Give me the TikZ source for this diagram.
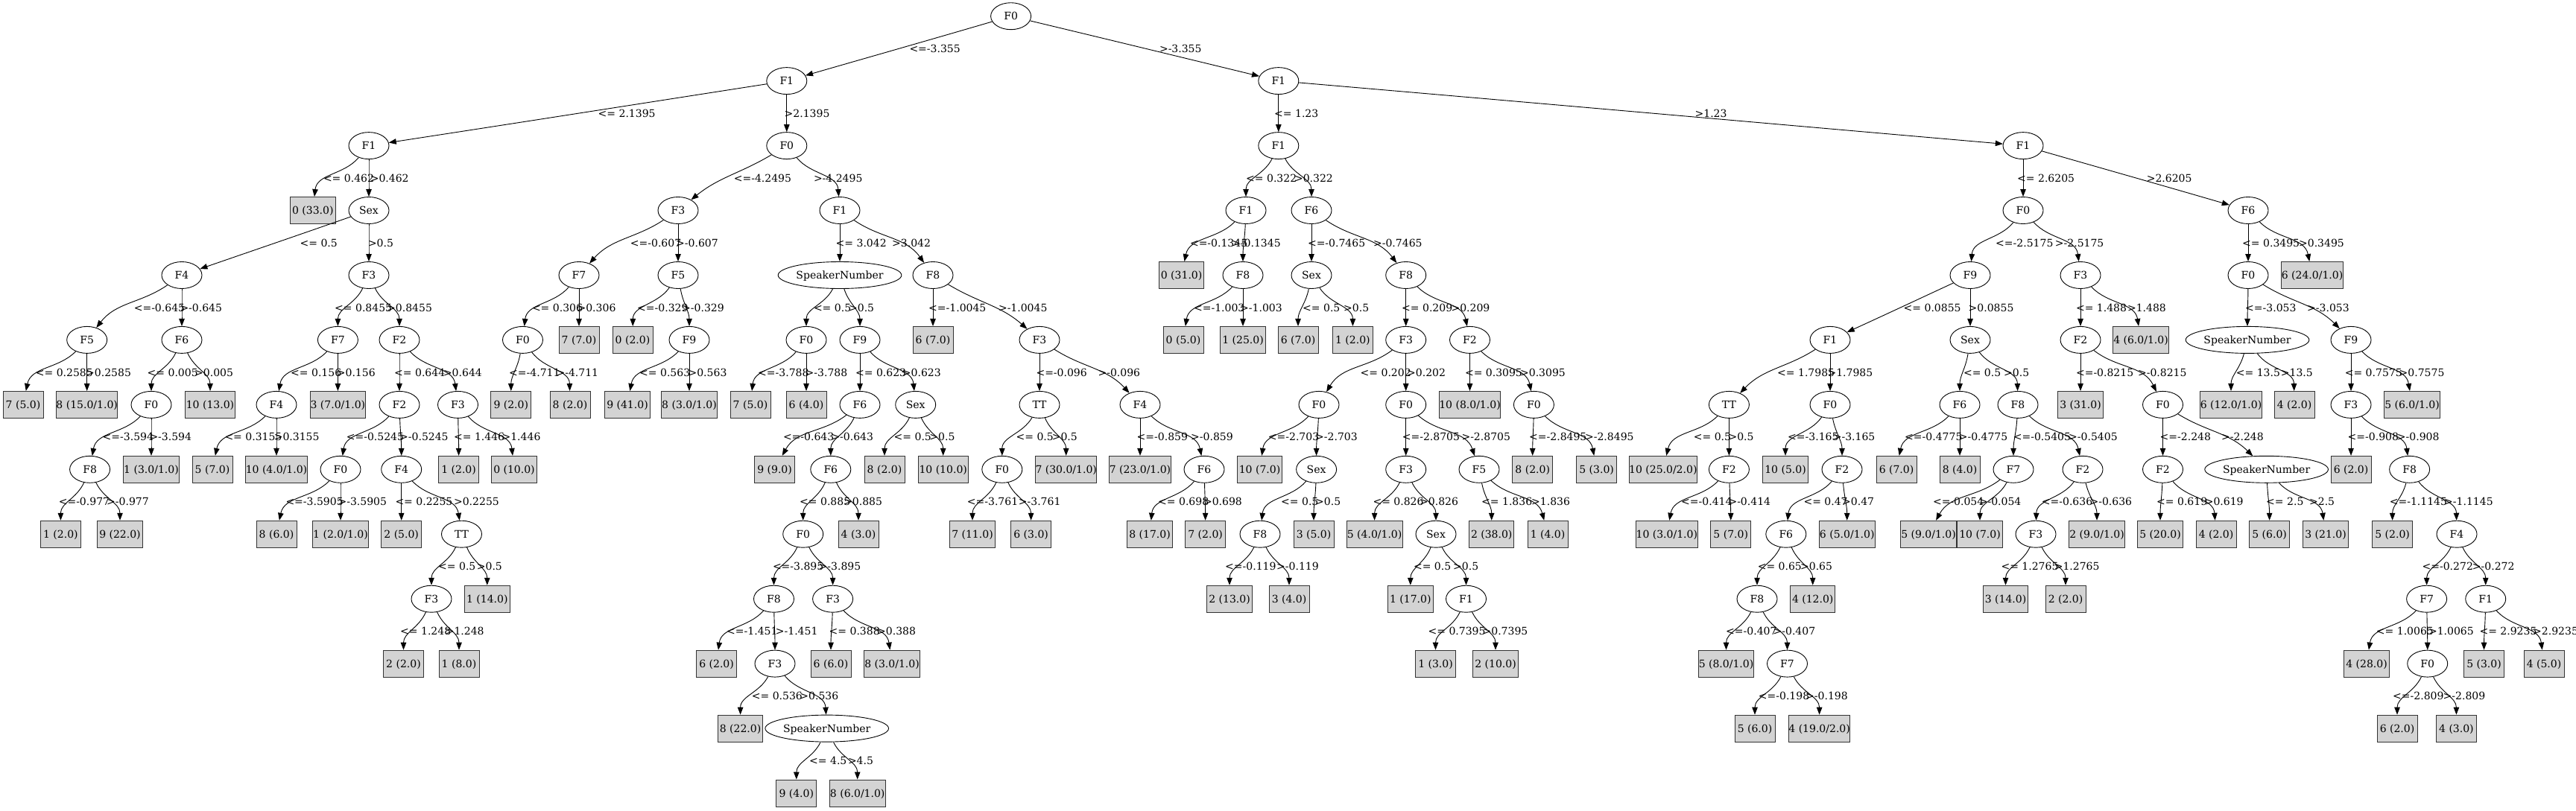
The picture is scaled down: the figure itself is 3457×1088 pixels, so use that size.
\documentclass[tikz,border=0pt]{standalone}
\usepackage{fontspec}
\setmainfont{DejaVu Serif}
\usetikzlibrary{arrows.meta,shapes.geometric}
\definecolor{leafgray}{RGB}{211,211,211}
\newdimen\edAx \newdimen\edAy \newdimen\edBx \newdimen\edBy
\newcommand\tedgelab[5]{%
  \pgfextractx{\edAx}{\pgfpointanchor{#1}{center}}%
  \pgfextracty{\edAy}{\pgfpointanchor{#1}{center}}%
  \pgfextractx{\edBx}{\pgfpointanchor{#2}{center}}%
  \pgfextracty{\edBy}{\pgfpointanchor{#2}{center}}%
  \pgfmathsetmacro\edOut{atan2(\edBy-\edAy,\edBx-\edAx)}%
  \pgfmathsetmacro\edStr{atan2(\edAy-\edBy,\edAx-\edBx)}%
  \pgfmathsetmacro\edW{min(1,max(0,(abs(\edBx-\edAx)-60)/100))}%
  \pgfmathsetmacro\edIn{90+(\edStr-90)*\edW}%
  \draw[tedge] (#1) to[out=\edOut,in=\edIn] (#2);
  \node[elab] (L#2) at (#3,#4) {#5};}
\begin{document}
\begin{tikzpicture}[x=1pt,y=-1pt,font=\fontsize{14pt}{16pt}\selectfont,
  inode/.style={ellipse,draw,line width=0.9pt,minimum width=54pt,minimum height=36pt,inner sep=0pt,text height=10.2pt,text depth=0pt},
  spk/.style={inode,minimum width=136pt},
  lf/.style={rectangle,draw=black!80,fill=leafgray,line width=0.9pt,minimum width=54pt,minimum height=36pt,inner xsep=0pt,inner ysep=0pt,text height=10.2pt,text depth=0pt},
  lfa/.style={lf,minimum width=60.3pt},
  lfb/.style={lf,minimum width=67.3pt},
  lfc/.style={lf,minimum width=74.7pt},
  lfd/.style={lf,minimum width=81.7pt},
  lfe/.style={lf,minimum width=88.7pt},
  elab/.style={anchor=west,inner sep=0pt,text height=10.2pt,text depth=0pt},
  tedge/.style={draw=black,line width=0.9pt,-{Triangle[length=10pt,width=7.5pt]}}]
\fill[white] (0,0) rectangle (3457,1088);
\useasboundingbox (0,0) rectangle (3457,1088);
% level 0-2
\node[inode] (n1) at (1356.6,21.7) {F0};
\node[inode] (n2) at (1055.8,108.6) {F1};
\node[inode] (n3) at (1715.8,108.6) {F1};
\node[inode] (n4) at (495,195.6) {F1};
\node[inode] (n5) at (1055.8,195.6) {F0};
\node[inode] (n6) at (1715.8,195.6) {F1};
\node[inode] (n7) at (2715,195.6) {F1};
% level 3
\node[lfa] (n8) at (419.8,282.5) {0 (33.0)};
\node[inode] (n9) at (495,282.5) {Sex};
\node[inode] (n10) at (910,282.5) {F3};
\node[inode] (n11) at (1127,282.5) {F1};
\node[inode] (n12) at (1672,282.5) {F1};
\node[inode] (n13) at (1760,282.5) {F6};
\node[inode] (n14) at (2715,282.5) {F0};
\node[inode] (n15) at (3017,282.5) {F6};
% level 4
\node[inode] (n16) at (244,369.5) {F4};
\node[inode] (n17) at (495,369.5) {F3};
\node[inode] (n18) at (777,369.5) {F7};
\node[inode] (n19) at (910,369.5) {F5};
\node[spk] (n20) at (1127,369.5) {SpeakerNumber};
\node[inode] (n21) at (1252,369.5) {F8};
\node[lfa] (n22) at (1585.6,369.5) {0 (31.0)};
\node[inode] (n23) at (1668,369.5) {F8};
\node[inode] (n24) at (1760,369.5) {Sex};
\node[inode] (n25) at (1886.7,369.5) {F8};
\node[inode] (n26) at (2644,369.5) {F9};
\node[inode] (n27) at (2792,369.5) {F3};
\node[inode] (n28) at (3017,369.5) {F0};
\node[lfd] (n29) at (3103,369.5) {6 (24.0/1.0)};
% level 5
\node[inode] (n30) at (116.7,456.4) {F5};
\node[inode] (n31) at (244,456.4) {F6};
\node[inode] (n32) at (453.4,456.4) {F7};
\node[inode] (n33) at (536,456.4) {F2};
\node[inode] (n34) at (701.5,456.4) {F0};
\node[lf] (n35) at (777,456.4) {7 (7.0)};
\node[lf] (n36) at (849,456.4) {0 (2.0)};
\node[inode] (n37) at (925,456.4) {F9};
\node[inode] (n38) at (1082,456.4) {F0};
\node[inode] (n39) at (1154,456.4) {F9};
\node[lf] (n40) at (1252,456.4) {6 (7.0)};
\node[inode] (n41) at (1395,456.4) {F3};
\node[lf] (n42) at (1588,456.4) {0 (5.0)};
\node[lfa] (n43) at (1668,456.4) {1 (25.0)};
\node[lf] (n44) at (1742,456.4) {6 (7.0)};
\node[lf] (n45) at (1815.4,456.4) {1 (2.0)};
\node[inode] (n46) at (1886.7,456.4) {F3};
\node[inode] (n47) at (1972.5,456.4) {F2};
\node[inode] (n48) at (2456,456.4) {F1};
\node[inode] (n49) at (2644,456.4) {Sex};
\node[inode] (n50) at (2792,456.4) {F2};
\node[lfc] (n51) at (2873,456.4) {4 (6.0/1.0)};
\node[spk] (n52) at (3016,456.4) {SpeakerNumber};
\node[inode] (n53) at (3155,456.4) {F9};
% level 6
\node[lf] (n54) at (31,543.4) {7 (5.0)};
\node[lfd] (n55) at (116.7,543.4) {8 (15.0/1.0)};
\node[inode] (n56) at (203,543.4) {F0};
\node[lfb] (n57) at (282,543.4) {10 (13.0)};
\node[inode] (n58) at (371,543.4) {F4};
\node[lfc] (n59) at (453.4,543.4) {3 (7.0/1.0)};
\node[inode] (n60) at (536,543.4) {F2};
\node[inode] (n61) at (614.5,543.4) {F3};
\node[lf] (n62) at (685.8,543.4) {9 (2.0)};
\node[lf] (n63) at (765,543.4) {8 (2.0)};
\node[lfa] (n64) at (842,543.4) {9 (41.0)};
\node[lfc] (n65) at (925,543.4) {8 (3.0/1.0)};
\node[lf] (n66) at (1007,543.4) {7 (5.0)};
\node[lf] (n67) at (1082,543.4) {6 (4.0)};
\node[inode] (n68) at (1154,543.4) {F6};
\node[inode] (n69) at (1228.7,543.4) {Sex};
\node[inode] (n70) at (1395,543.4) {TT};
\node[inode] (n71) at (1530,543.4) {F4};
\node[inode] (n72) at (1770,543.4) {F0};
\node[inode] (n73) at (1886.7,543.4) {F0};
\node[lfd] (n74) at (1972.5,543.4) {10 (8.0/1.0)};
\node[inode] (n75) at (2058.4,543.4) {F0};
\node[inode] (n76) at (2320.4,543.4) {TT};
\node[inode] (n77) at (2456,543.4) {F0};
\node[inode] (n78) at (2630,543.4) {F6};
\node[inode] (n79) at (2708,543.4) {F8};
\node[lfa] (n80) at (2792,543.4) {3 (31.0)};
\node[inode] (n81) at (2902.5,543.4) {F0};
\node[lfd] (n82) at (2994,543.4) {6 (12.0/1.0)};
\node[lf] (n83) at (3079,543.4) {4 (2.0)};
\node[inode] (n84) at (3155,543.4) {F3};
\node[lfc] (n85) at (3237,543.4) {5 (6.0/1.0)};
% level 7
\node[inode] (n86) at (120.6,630.3) {F8};
\node[lfc] (n87) at (203,630.3) {1 (3.0/1.0)};
\node[lf] (n88) at (285,630.3) {5 (7.0)};
\node[lfd] (n89) at (371,630.3) {10 (4.0/1.0)};
\node[inode] (n90) at (457,630.3) {F0};
\node[inode] (n91) at (538.7,630.3) {F4};
\node[lf] (n92) at (615.6,630.3) {1 (2.0)};
\node[lfa] (n93) at (690,630.3) {0 (10.0)};
\node[lf] (n94) at (1039.6,630.3) {9 (9.0)};
\node[inode] (n95) at (1114.8,630.3) {F6};
\node[lf] (n96) at (1187,630.3) {8 (2.0)};
\node[lfb] (n97) at (1265.7,630.3) {10 (10.0)};
\node[inode] (n98) at (1344.8,630.3) {F0};
\node[lfd] (n99) at (1430.7,630.3) {7 (30.0/1.0)};
\node[lfd] (n100) at (1530,630.3) {7 (23.0/1.0)};
\node[inode] (n101) at (1616,630.3) {F6};
\node[lfa] (n102) at (1690.5,630.3) {10 (7.0)};
\node[inode] (n103) at (1766.6,630.3) {Sex};
\node[inode] (n104) at (1886.7,630.3) {F3};
\node[inode] (n105) at (1985,630.3) {F5};
\node[lf] (n106) at (2056.7,630.3) {8 (2.0)};
\node[lf] (n107) at (2142.6,630.3) {5 (3.0)};
\node[lfe] (n108) at (2231.8,630.3) {10 (25.0/2.0)};
\node[inode] (n109) at (2320.4,630.3) {F2};
\node[lfa] (n110) at (2396,630.3) {10 (5.0)};
\node[inode] (n111) at (2472,630.3) {F2};
\node[lf] (n112) at (2545,630.3) {6 (7.0)};
\node[lf] (n113) at (2630,630.3) {8 (4.0)};
\node[inode] (n114) at (2702,630.3) {F7};
\node[inode] (n115) at (2795,630.3) {F2};
\node[inode] (n116) at (2902.5,630.3) {F2};
\node[spk] (n117) at (3041.6,630.3) {SpeakerNumber};
\node[lf] (n118) at (3155,630.3) {6 (2.0)};
\node[inode] (n119) at (3233.6,630.3) {F8};
% level 8
\node[lf] (n120) at (81.4,717.2) {1 (2.0)};
\node[lfa] (n121) at (161,717.2) {9 (22.0)};
\node[lf] (n122) at (371,717.2) {8 (6.0)};
\node[lfc] (n123) at (457,717.2) {1 (2.0/1.0)};
\node[lf] (n124) at (538.7,717.2) {2 (5.0)};
\node[inode] (n125) at (619.5,717.2) {TT};
\node[inode] (n126) at (1077.7,717.2) {F0};
\node[lf] (n127) at (1152,717.2) {4 (3.0)};
\node[lfa] (n128) at (1305,717.2) {7 (11.0)};
\node[lf] (n129) at (1383.6,717.2) {6 (3.0)};
\node[lfa] (n130) at (1543,717.2) {8 (17.0)};
\node[lf] (n131) at (1617.6,717.2) {7 (2.0)};
\node[inode] (n132) at (1691,717.2) {F8};
\node[lf] (n133) at (1763,717.2) {3 (5.0)};
\node[lfc] (n134) at (1844.6,717.2) {5 (4.0/1.0)};
\node[inode] (n135) at (1927,717.2) {Sex};
\node[lfa] (n136) at (2001.7,717.2) {2 (38.0)};
\node[lf] (n137) at (2077,717.2) {1 (4.0)};
\node[lfd] (n138) at (2236.8,717.2) {10 (3.0/1.0)};
\node[lf] (n139) at (2322.7,717.2) {5 (7.0)};
\node[inode] (n140) at (2396.8,717.2) {F6};
\node[lfc] (n141) at (2478.7,717.2) {6 (5.0/1.0)};
\node[lfc] (n142) at (2588,717.2) {5 (9.0/1.0)};
\node[lfa] (n143) at (2657,717.2) {10 (7.0)};
\node[inode] (n144) at (2732,717.2) {F3};
\node[lfc] (n145) at (2814,717.2) {2 (9.0/1.0)};
\node[lfa] (n146) at (2899,717.2) {5 (20.0)};
\node[lf] (n147) at (2974,717.2) {4 (2.0)};
\node[lf] (n148) at (3045.6,717.2) {5 (6.0)};
\node[lfa] (n149) at (3121,717.2) {3 (21.0)};
\node[lf] (n150) at (3210.6,717.2) {5 (2.0)};
\node[inode] (n151) at (3297,717.2) {F4};
% level 9
\node[inode] (n152) at (579,804.2) {F3};
\node[lfa] (n153) at (653.8,804.2) {1 (14.0)};
\node[inode] (n154) at (1038.5,804.2) {F8};
\node[inode] (n155) at (1117.6,804.2) {F3};
\node[lfa] (n156) at (1650,804.2) {2 (13.0)};
\node[lf] (n157) at (1730,804.2) {3 (4.0)};
\node[lfa] (n158) at (1892.8,804.2) {1 (17.0)};
\node[inode] (n159) at (1967.5,804.2) {F1};
\node[inode] (n160) at (2358,804.2) {F8};
\node[lfa] (n161) at (2432.7,804.2) {4 (12.0)};
\node[lfa] (n162) at (2691.5,804.2) {3 (14.0)};
\node[lf] (n163) at (2772,804.2) {2 (2.0)};
\node[inode] (n164) at (3256.6,804.2) {F7};
\node[inode] (n165) at (3335.7,804.2) {F1};
% level 10
\node[lf] (n166) at (541.5,891.1) {2 (2.0)};
\node[lf] (n167) at (616,891.1) {1 (8.0)};
\node[lf] (n168) at (961.6,891.1) {6 (2.0)};
\node[inode] (n169) at (1040,891.1) {F3};
\node[lf] (n170) at (1115,891.1) {6 (6.0)};
\node[lfc] (n171) at (1197,891.1) {8 (3.0/1.0)};
\node[lf] (n172) at (1926.5,891.1) {1 (3.0)};
\node[lfa] (n173) at (2007,891.1) {2 (10.0)};
\node[lfc] (n174) at (2316.5,891.1) {5 (8.0/1.0)};
\node[inode] (n175) at (2398.5,891.1) {F7};
\node[lfa] (n176) at (3176,891.1) {4 (28.0)};
\node[inode] (n177) at (3257.7,891.1) {F0};
\node[lf] (n178) at (3333.5,891.1) {5 (3.0)};
\node[lf] (n179) at (3414,891.1) {4 (5.0)};
% level 11
\node[lfa] (n180) at (993.6,978.1) {8 (22.0)};
\node[spk] (n181) at (1109.7,978.1) {SpeakerNumber};
\node[lf] (n182) at (2355,978.1) {5 (6.0)};
\node[lfd] (n183) at (2441.6,978.1) {4 (19.0/2.0)};
\node[lf] (n184) at (3217,978.1) {6 (2.0)};
\node[lf] (n185) at (3296.4,978.1) {4 (3.0)};
% level 12
\node[lf] (n186) at (1068.8,1065) {9 (4.0)};
\node[lfc] (n187) at (1150.7,1065) {8 (6.0/1.0)};
% edges
\tedgelab{n1}{n2}{1220.3}{65.2}{<=-3.355}
\tedgelab{n1}{n3}{1555.8}{65.2}{>-3.355}
\tedgelab{n2}{n4}{802.5}{152.1}{<= 2.1395}
\tedgelab{n2}{n5}{1052.5}{152.1}{>2.1395}
\tedgelab{n3}{n6}{1710}{152.1}{<= 1.23}
\tedgelab{n3}{n7}{2274.4}{152.1}{>1.23}
\tedgelab{n4}{n8}{433.8}{239}{<= 0.462}
\tedgelab{n4}{n9}{496.6}{239}{>0.462}
\tedgelab{n5}{n10}{984.6}{239}{<=-4.2495}
\tedgelab{n5}{n11}{1091.8}{239}{>-4.2495}
\tedgelab{n6}{n12}{1672}{239}{<= 0.322}
\tedgelab{n6}{n13}{1736.8}{239}{>0.322}
\tedgelab{n7}{n14}{2707}{239}{<= 2.6205}
\tedgelab{n7}{n15}{2880.6}{239}{>2.6205}
\tedgelab{n9}{n16}{402.4}{326}{<= 0.5}
\tedgelab{n9}{n17}{493.8}{326}{>0.5}
\tedgelab{n10}{n18}{845.7}{326}{<=-0.607}
\tedgelab{n10}{n19}{907}{326}{>-0.607}
\tedgelab{n11}{n20}{1121.5}{326}{<= 3.042}
\tedgelab{n11}{n21}{1197}{326}{>3.042}
\tedgelab{n12}{n22}{1596.8}{326}{<=-0.1345}
\tedgelab{n12}{n23}{1653}{326}{>-0.1345}
\tedgelab{n13}{n24}{1754.8}{326}{<=-0.7465}
\tedgelab{n13}{n25}{1842.9}{326}{>-0.7465}
\tedgelab{n14}{n26}{2678}{326}{<=-2.5175}
\tedgelab{n14}{n27}{2757.7}{326}{>-2.5175}
\tedgelab{n15}{n28}{3009}{326}{<= 0.3495}
\tedgelab{n15}{n29}{3084.9}{326}{>0.3495}
\tedgelab{n16}{n30}{179.6}{412.9}{<=-0.645}
\tedgelab{n16}{n31}{241.3}{412.9}{>-0.645}
\tedgelab{n17}{n32}{449}{412.9}{<= 0.8455}
\tedgelab{n17}{n33}{519}{412.9}{>0.8455}
\tedgelab{n18}{n34}{713.8}{412.9}{<= 0.306}
\tedgelab{n18}{n35}{774.4}{412.9}{>0.306}
\tedgelab{n19}{n36}{855}{412.9}{<=-0.329}
\tedgelab{n19}{n37}{915}{412.9}{>-0.329}
\tedgelab{n20}{n38}{1091.8}{412.9}{<= 0.5}
\tedgelab{n20}{n39}{1138.9}{412.9}{>0.5}
\tedgelab{n21}{n40}{1246}{412.9}{<=-1.0045}
\tedgelab{n21}{n41}{1339.8}{412.9}{>-1.0045}
\tedgelab{n23}{n42}{1601.9}{412.9}{<=-1.003}
\tedgelab{n23}{n43}{1664}{412.9}{>-1.003}
\tedgelab{n24}{n44}{1748}{412.9}{<= 0.5}
\tedgelab{n24}{n45}{1803}{412.9}{>0.5}
\tedgelab{n25}{n46}{1881}{412.9}{<= 0.209}
\tedgelab{n25}{n47}{1947.3}{412.9}{>0.209}
\tedgelab{n26}{n48}{2554.5}{412.9}{<= 0.0855}
\tedgelab{n26}{n49}{2641.5}{412.9}{>0.0855}
\tedgelab{n27}{n50}{2785.8}{412.9}{<= 1.488}
\tedgelab{n27}{n51}{2854.8}{412.9}{>1.488}
\tedgelab{n28}{n52}{3013}{412.9}{<=-3.053}
\tedgelab{n28}{n53}{3096}{412.9}{>-3.053}
\tedgelab{n30}{n54}{47.7}{499.9}{<= 0.2585}
\tedgelab{n30}{n55}{115}{499.9}{>0.2585}
\tedgelab{n31}{n56}{197.5}{499.9}{<= 0.005}
\tedgelab{n31}{n57}{261}{499.9}{>0.005}
\tedgelab{n32}{n58}{390}{499.9}{<= 0.156}
\tedgelab{n32}{n59}{451.7}{499.9}{>0.156}
\tedgelab{n33}{n60}{529}{499.9}{<= 0.644}
\tedgelab{n33}{n61}{594.8}{499.9}{>0.644}
\tedgelab{n34}{n62}{683}{499.9}{<=-4.711}
\tedgelab{n34}{n63}{746.4}{499.9}{>-4.711}
\tedgelab{n37}{n64}{858}{499.9}{<= 0.563}
\tedgelab{n37}{n65}{923.4}{499.9}{>0.563}
\tedgelab{n38}{n66}{1017}{499.9}{<=-3.788}
\tedgelab{n38}{n67}{1080.5}{499.9}{>-3.788}
\tedgelab{n39}{n68}{1147.9}{499.9}{<= 0.623}
\tedgelab{n39}{n69}{1210.7}{499.9}{>0.623}
\tedgelab{n41}{n70}{1390.3}{499.9}{<=-0.096}
\tedgelab{n41}{n71}{1473.4}{499.9}{>-0.096}
\tedgelab{n46}{n72}{1825.5}{499.9}{<= 0.202}
\tedgelab{n46}{n73}{1888}{499.9}{>0.202}
\tedgelab{n47}{n74}{1965.8}{499.9}{<= 0.3095}
\tedgelab{n47}{n75}{2039.9}{499.9}{>0.3095}
\tedgelab{n48}{n76}{2385}{499.9}{<= 1.7985}
\tedgelab{n48}{n77}{2452.3}{499.9}{>1.7985}
\tedgelab{n49}{n78}{2634.8}{499.9}{<= 0.5}
\tedgelab{n49}{n79}{2689}{499.9}{>0.5}
\tedgelab{n50}{n80}{2785.8}{499.9}{<=-0.8215}
\tedgelab{n50}{n81}{2868.8}{499.9}{>-0.8215}
\tedgelab{n52}{n82}{3000.7}{499.9}{<= 13.5}
\tedgelab{n52}{n83}{3060.7}{499.9}{>13.5}
\tedgelab{n53}{n84}{3146.6}{499.9}{<= 0.7575}
\tedgelab{n53}{n85}{3219.5}{499.9}{>0.7575}
\tedgelab{n56}{n86}{137.5}{586.8}{<=-3.594}
\tedgelab{n56}{n87}{200.3}{586.8}{>-3.594}
\tedgelab{n58}{n88}{301.3}{586.8}{<= 0.3155}
\tedgelab{n58}{n89}{367.6}{586.8}{>0.3155}
\tedgelab{n60}{n90}{464.6}{586.8}{<=-0.5245}
\tedgelab{n60}{n91}{536}{586.8}{>-0.5245}
\tedgelab{n61}{n92}{608.9}{586.8}{<= 1.446}
\tedgelab{n61}{n93}{673.4}{586.8}{>1.446}
\tedgelab{n68}{n94}{1050.8}{586.8}{<=-0.643}
\tedgelab{n68}{n95}{1115.3}{586.8}{>-0.643}
\tedgelab{n69}{n96}{1199.5}{586.8}{<= 0.5}
\tedgelab{n69}{n97}{1247.2}{586.8}{>0.5}
\tedgelab{n70}{n98}{1363.4}{586.8}{<= 0.5}
\tedgelab{n70}{n99}{1411.6}{586.8}{>0.5}
\tedgelab{n71}{n100}{1525.5}{586.8}{<=-0.859}
\tedgelab{n71}{n101}{1598}{586.8}{>-0.859}
\tedgelab{n72}{n102}{1701.7}{586.8}{<=-2.703}
\tedgelab{n72}{n103}{1765}{586.8}{>-2.703}
\tedgelab{n73}{n104}{1881.6}{586.8}{<=-2.8705}
\tedgelab{n73}{n105}{1961.3}{586.8}{>-2.8705}
\tedgelab{n75}{n106}{2052}{586.8}{<=-2.8495}
\tedgelab{n75}{n107}{2126.9}{586.8}{>-2.8495}
\tedgelab{n76}{n108}{2272.7}{586.8}{<= 0.5}
\tedgelab{n76}{n109}{2319.3}{586.8}{>0.5}
\tedgelab{n77}{n110}{2399}{586.8}{<=-3.165}
\tedgelab{n77}{n111}{2459.6}{586.8}{>-3.165}
\tedgelab{n78}{n112}{2556}{586.8}{<=-0.4775}
\tedgelab{n78}{n113}{2628.6}{586.8}{>-0.4775}
\tedgelab{n79}{n114}{2701.6}{586.8}{<=-0.5405}
\tedgelab{n79}{n115}{2776}{586.8}{>-0.5405}
\tedgelab{n81}{n116}{2898.5}{586.8}{<=-2.248}
\tedgelab{n81}{n117}{2981}{586.8}{>-2.248}
\tedgelab{n84}{n118}{3150.5}{586.8}{<=-0.908}
\tedgelab{n84}{n119}{3216.7}{586.8}{>-0.908}
\tedgelab{n86}{n120}{78.6}{673.8}{<=-0.977}
\tedgelab{n86}{n121}{143}{673.8}{>-0.977}
\tedgelab{n90}{n122}{383.3}{673.8}{<=-3.5905}
\tedgelab{n90}{n123}{453.4}{673.8}{>-3.5905}
\tedgelab{n91}{n124}{530.3}{673.8}{<= 0.2255}
\tedgelab{n91}{n125}{608.9}{673.8}{>0.2255}
\tedgelab{n95}{n126}{1073}{673.8}{<= 0.885}
\tedgelab{n95}{n127}{1132}{673.8}{>0.885}
\tedgelab{n98}{n128}{1297.7}{673.8}{<=-3.761}
\tedgelab{n98}{n129}{1366.7}{673.8}{>-3.761}
\tedgelab{n101}{n130}{1554}{673.8}{<= 0.698}
\tedgelab{n101}{n131}{1614.8}{673.8}{>0.698}
\tedgelab{n103}{n132}{1719}{673.8}{<= 0.5}
\tedgelab{n103}{n133}{1765}{673.8}{>0.5}
\tedgelab{n104}{n134}{1842.3}{673.8}{<= 0.826}
\tedgelab{n104}{n135}{1905}{673.8}{>0.826}
\tedgelab{n105}{n136}{1988}{673.8}{<= 1.836}
\tedgelab{n105}{n137}{2055}{673.8}{>1.836}
\tedgelab{n109}{n138}{2256}{673.8}{<=-0.414}
\tedgelab{n109}{n139}{2319.3}{673.8}{>-0.414}
\tedgelab{n111}{n140}{2420.3}{673.8}{<= 0.47}
\tedgelab{n111}{n141}{2472}{673.8}{>0.47}
\tedgelab{n114}{n142}{2593.8}{673.8}{<=-0.054}
\tedgelab{n114}{n143}{2655.6}{673.8}{>-0.054}
\tedgelab{n115}{n144}{2739.7}{673.8}{<=-0.636}
\tedgelab{n115}{n145}{2804.3}{673.8}{>-0.636}
\tedgelab{n116}{n146}{2894}{673.8}{<= 0.619}
\tedgelab{n116}{n147}{2958.6}{673.8}{>0.619}
\tedgelab{n117}{n148}{3041}{673.8}{<= 2.5}
\tedgelab{n117}{n149}{3098.9}{673.8}{>2.5}
\tedgelab{n119}{n150}{3206.6}{673.8}{<=-1.1145}
\tedgelab{n119}{n151}{3280}{673.8}{>-1.1145}
\tedgelab{n125}{n152}{588}{760.7}{<= 0.5}
\tedgelab{n125}{n153}{639.7}{760.7}{>0.5}
\tedgelab{n126}{n154}{1036.8}{760.7}{<=-3.895}
\tedgelab{n126}{n155}{1098.5}{760.7}{>-3.895}
\tedgelab{n132}{n156}{1644}{760.7}{<=-0.119}
\tedgelab{n132}{n157}{1713}{760.7}{>-0.119}
\tedgelab{n135}{n158}{1896.8}{760.7}{<= 0.5}
\tedgelab{n135}{n159}{1950}{760.7}{>0.5}
\tedgelab{n140}{n160}{2358.6}{760.7}{<= 0.65}
\tedgelab{n140}{n161}{2415.9}{760.7}{>0.65}
\tedgelab{n144}{n162}{2685.3}{760.7}{<= 1.2765}
\tedgelab{n144}{n163}{2756.6}{760.7}{>1.2765}
\tedgelab{n151}{n164}{3250.4}{760.7}{<=-0.272}
\tedgelab{n151}{n165}{3317.7}{760.7}{>-0.272}
\tedgelab{n152}{n166}{537}{847.7}{<= 1.248}
\tedgelab{n152}{n167}{597.6}{847.7}{>1.248}
\tedgelab{n154}{n168}{975}{847.7}{<=-1.451}
\tedgelab{n154}{n169}{1040.7}{847.7}{>-1.451}
\tedgelab{n155}{n170}{1112.5}{847.7}{<= 0.388}
\tedgelab{n155}{n171}{1177}{847.7}{>0.388}
\tedgelab{n159}{n172}{1916.4}{847.7}{<= 0.7395}
\tedgelab{n159}{n173}{1989.4}{847.7}{>0.7395}
\tedgelab{n160}{n174}{2316}{847.7}{<=-0.407}
\tedgelab{n160}{n175}{2379.4}{847.7}{>-0.407}
\tedgelab{n164}{n176}{3188.7}{847.7}{<= 1.0065}
\tedgelab{n164}{n177}{3258.8}{847.7}{>1.0065}
\tedgelab{n165}{n178}{3327.3}{847.7}{<= 2.9235}
\tedgelab{n165}{n179}{3399}{847.7}{>2.9235}
\tedgelab{n169}{n180}{1008.7}{934.6}{<= 0.536}
\tedgelab{n169}{n181}{1073.2}{934.6}{>0.536}
\tedgelab{n175}{n182}{2359.7}{934.6}{<=-0.198}
\tedgelab{n175}{n183}{2423}{934.6}{>-0.198}
\tedgelab{n177}{n184}{3211}{934.6}{<=-2.809}
\tedgelab{n177}{n185}{3278.5}{934.6}{>-2.809}
\tedgelab{n181}{n186}{1086}{1021.5}{<= 4.5}
\tedgelab{n181}{n187}{1137.8}{1021.5}{>4.5}
\end{tikzpicture}
\end{document}
